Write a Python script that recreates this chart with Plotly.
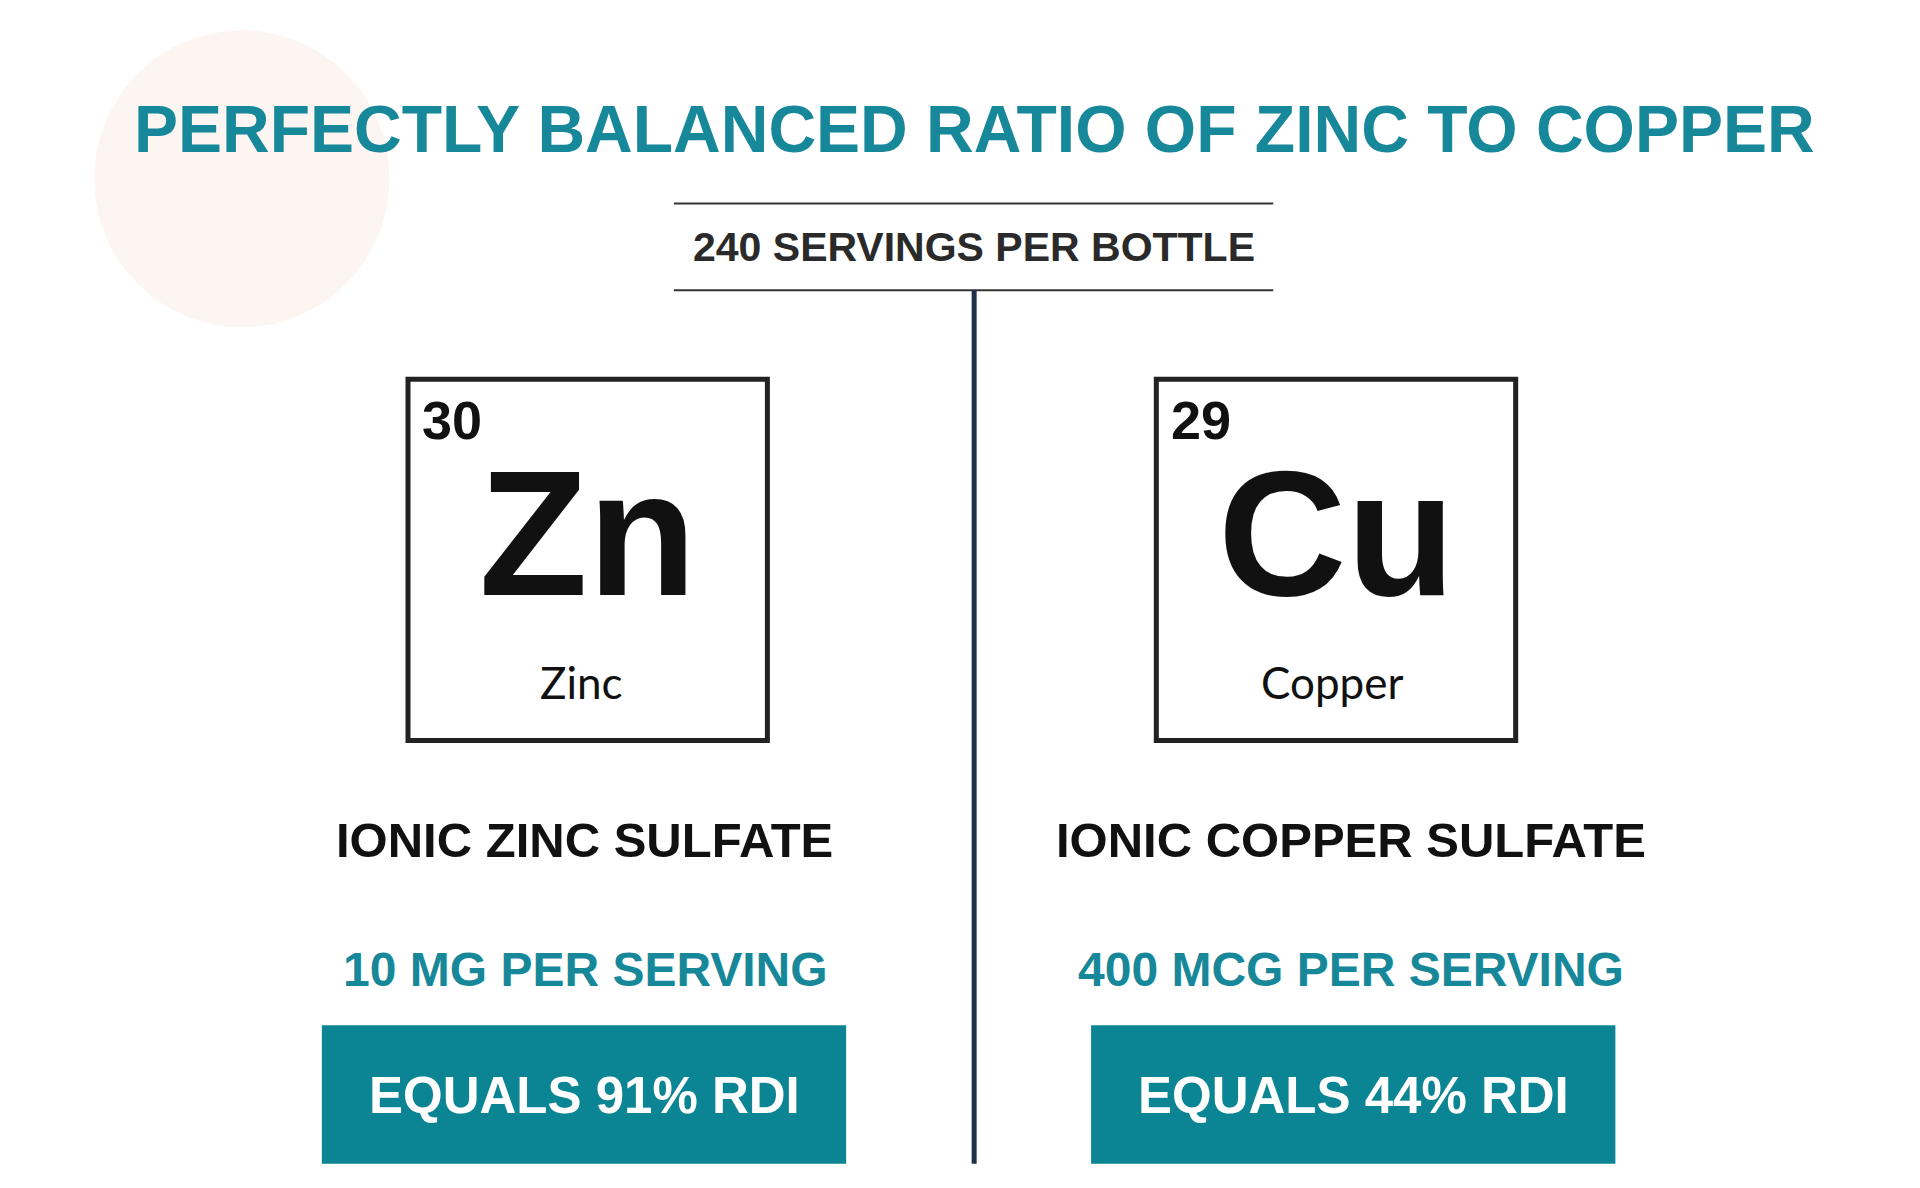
import plotly.graph_objects as go

title = "PERFECTLY BALANCED RATIO OF ZINC TO COPPER"
subtitle = "240 SERVINGS PER BOTTLE"
numbers = ["30", "29"]
symbols = ["Zn", "Cu"]
names = ["Zinc", "Copper"]
compounds = ["IONIC ZINC SULFATE", "IONIC COPPER SULFATE"]
doses = ["10 MG PER SERVING", "400 MCG PER SERVING"]
rdi = ["EQUALS 91% RDI", "EQUALS 44% RDI"]

TEAL = "#17889a"
BOX = "#0b8494"
COND = "Liberation Sans Narrow, Arial Narrow, Liberation Sans, sans-serif"
W, H = 1560, 960
s = 1920 / W

fig = go.Figure()
shapes = [
    dict(type="circle", x0=70, x1=310, y0=18, y1=258, fillcolor="#fdf5f2", line_width=0, layer="below"),
    dict(type="line", x0=541, x1=1028, y0=158, y1=158, line=dict(color="#333", width=2)),
    dict(type="line", x0=541, x1=1028, y0=228, y1=228, line=dict(color="#333", width=2)),
    dict(type="line", x0=785, x1=785, y0=228, y1=934, line=dict(color="#1d2f4a", width=5)),
]
ann = [
    dict(x=785, y=98, text="<b>" + title + "</b>", font=dict(family=COND, size=int(54 * s), color=TEAL)),
    dict(x=785, y=193, text="<b>" + subtitle + "</b>", font=dict(family=COND, size=int(34 * s), color="#2a2a2a")),
]
boxes = [(325, 617), (933, 1225)]
rboxes = [(255, 681), (880, 1306)]
for i in range(2):
    x0, x1 = boxes[i]
    cx = (x0 + x1) / 2
    shapes.append(dict(type="rect", x0=x0, x1=x1, y0=300, y1=592, line=dict(color="#222", width=5)))
    ann.append(dict(x=x0 + 10, y=333, xanchor="left", text="<b>" + numbers[i] + "</b>",
                    font=dict(family="Liberation Sans, Arial", size=int(44 * s), color="#111")))
    ann.append(dict(x=cx, y=425, text="<b>" + symbols[i] + "</b>",
                    font=dict(family="Liberation Sans, Arial", size=int(145 * s), color="#111")))
    ann.append(dict(x=cx - 5 if i == 0 else cx - 3, y=545, text=names[i],
                    font=dict(family="Lato, Open Sans", size=int(36 * s), color="#111")))
    ann.append(dict(x=(x0 + x1) / 2 + (-3 if i == 0 else 12), y=672, text="<b>" + compounds[i] + "</b>",
                    font=dict(family=COND, size=int(40 * s), color="#111")))
    ann.append(dict(x=(x0 + x1) / 2 + (-2 if i == 0 else 12), y=777, text="<b>" + doses[i] + "</b>",
                    font=dict(family=COND, size=int(39 * s), color=TEAL)))
    r0, r1 = rboxes[i]
    shapes.append(dict(type="rect", x0=r0, x1=r1, y0=822, y1=934, fillcolor=BOX, line_width=0))
    ann.append(dict(x=(r0 + r1) / 2, y=879, text="<b>" + rdi[i] + "</b>",
                    font=dict(family=COND, size=int(42 * s), color="white")))
for a in ann:
    a.update(xref="x", yref="y", showarrow=False, yanchor="middle")
    a.setdefault("xanchor", "center")

fig.update_layout(
    width=1920, height=1188, margin=dict(l=0, r=0, t=0, b=0),
    plot_bgcolor="white", paper_bgcolor="white", shapes=shapes, annotations=ann,
    xaxis=dict(range=[0, W], visible=False, fixedrange=True),
    yaxis=dict(range=[H, 0], visible=False, fixedrange=True),
    showlegend=False,
)
fig.write_html("out.html")
